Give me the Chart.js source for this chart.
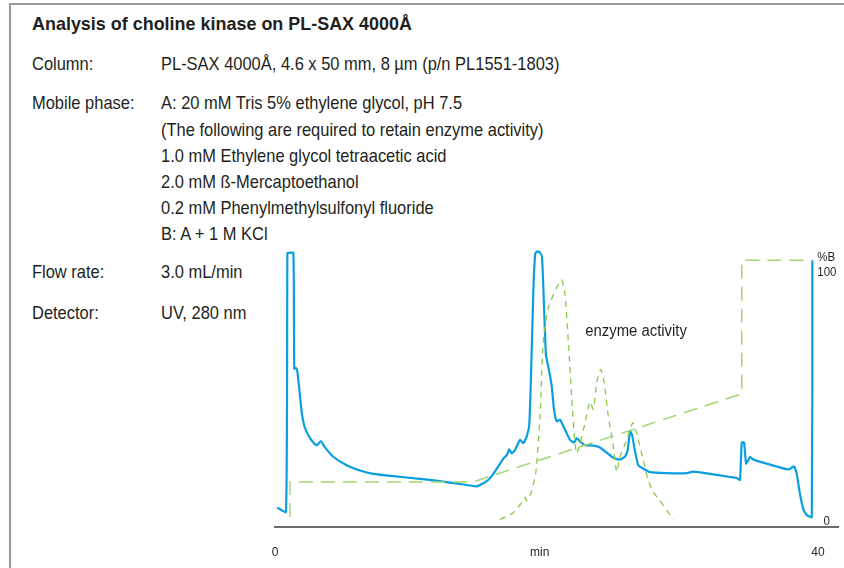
<!DOCTYPE html>
<html>
<head>
<meta charset="utf-8">
<script src="https://cdn.jsdelivr.net/npm/chart.js@4.4.1/dist/chart.umd.min.js"></script>
<style>
  html, body { margin:0; padding:0; background:#fff; }
  body { width:844px; height:568px; position:relative; overflow:hidden;
         font-family:"Liberation Sans","Roboto",sans-serif; color:#231f20; }
  #frame { position:absolute; left:9px; top:3px; width:840px; height:570px;
           border-top:2px solid #9a9a9a; border-left:2px solid #9a9a9a; }
  .t { position:absolute; white-space:nowrap; font-size:18.5px; line-height:22px;
       transform:scaleX(0.89); transform-origin:0 50%; }
  .title { font-weight:bold; transform:scaleX(0.97); }
  #chart { position:absolute; left:0; top:0; }
</style>
</head>
<body>
<div id="frame"></div>
<div class="t title" style="left:32px; top:13px;">Analysis of choline kinase on PL-SAX 4000Å</div>
<div class="t" style="left:32px; top:53px;">Column:</div>
<div class="t" style="left:161px; top:53px;">PL-SAX 4000Å, 4.6 x 50 mm, 8 µm (p/n PL1551-1803)</div>
<div class="t" style="left:32px; top:92px;">Mobile phase:</div>
<div class="t" style="left:161px; top:92px;">A: 20 mM Tris 5% ethylene glycol, pH 7.5</div>
<div class="t" style="left:161px; top:119px;">(The following are required to retain enzyme activity)</div>
<div class="t" style="left:161px; top:145px;">1.0 mM Ethylene glycol tetraacetic acid</div>
<div class="t" style="left:161px; top:171px;">2.0 mM ß-Mercaptoethanol</div>
<div class="t" style="left:161px; top:197px;">0.2 mM Phenylmethylsulfonyl fluoride</div>
<div class="t" style="left:161px; top:223px;">B: A + 1 M KCl</div>
<div class="t" style="left:32px; top:261px;">Flow rate:</div>
<div class="t" style="left:161px; top:261px;">3.0 mL/min</div>
<div class="t" style="left:32px; top:302px;">Detector:</div>
<div class="t" style="left:161px; top:302px;">UV, 280 nm</div>
<canvas id="chart" width="844" height="568"></canvas>
<script>
// ---- data (time in min, signal in %B-equivalent units) ----
const uvTime = [0.17,0.81,0.91,0.98,1.35,1.42,1.55,1.64,1.79,1.97,2.21,2.58,2.95,3.12,3.37,3.68,4.29,5.28,6.26,7.24,8.71,10.68,12.15,13.63,14.86,15.6,16.08,16.82,17.07,17.26,17.44,17.68,18.05,18.29,18.54,18.73,18.86,19.03,19.17,19.32,19.52,19.67,19.82,19.96,20.16,20.38,20.55,20.75,20.99,21.24,21.49,21.73,22.03,22.23,22.47,22.84,23.45,23.94,24.43,24.92,25.36,25.78,25.98,26.15,26.3,26.52,26.76,27.13,27.62,28.85,30.33,30.81,31.31,33.52,34.01,34.25,34.38,34.55,34.7,34.87,34.99,35.24,37.81,38.23,38.43,38.67,38.92,39.17,39.54,39.58];
const uvSignal = [4.6,2.9,102.6,102.9,102.9,58.2,58.4,57.3,50.3,41.2,35.3,31.4,29,28.7,30.3,27.8,24.2,20.9,18.9,17.6,16.7,15.7,14.8,13.7,12.8,14.8,17.6,23.5,24.8,27.1,25.5,26.8,30.7,29.4,32,36.6,55.7,88.2,102.6,103.5,103.1,101.3,81.7,63.4,58.2,51.6,42.5,37.9,38.5,36,33.3,30.7,29.7,31.4,30.1,28.7,28.5,27.8,25.8,23.8,23.1,24.2,26.8,34,32.7,26.2,20.9,19.6,18.3,17.9,17.9,18.5,18.2,16.4,16,15.3,29.7,29.7,21.6,22.9,24.2,23.1,19.3,20.5,17.6,9.8,3.9,1.7,0.9,100];

const gradientTime = [1.1,1.1,14.6,34.38,34.38,39.4];
const gradientPercentB = [1,14.5,14.5,48.5,100,100];

const activityTime = [16.57,17.55,18.17,18.42,18.54,18.91,19.23,19.52,19.76,20.13,20.75,21.12,21.36,21.61,21.86,22.1,22.23,22.47,22.84,23.2,23.45,23.7,23.99,24.24,24.55,24.92,25.17,25.41,25.91,26.35,26.64,27.13,27.5,27.87,28.36,29.34];
const activityValue = [0,2.6,6.5,8.5,7.2,11.1,18.9,40,68.6,81.7,89.5,92.4,86.9,68.6,46.4,29.4,25.5,29.4,37.3,45.4,42.5,52.9,57.9,52.9,39.9,28.1,18.3,24.2,30.7,37.3,33.3,22.9,15,10.5,7.2,0];

const xTickValues = [0, 19.5, 40];
const xTickLabels = ['0', 'min', '40'];
const percentBTicks = [100, 0];
const percentBTitle = '%B';
const activityLabel = 'enzyme activity';

const zip = (xs, ys) => xs.map((x, i) => ({x, y: ys[i]}));

const FONT = '"Liberation Sans","Roboto",sans-serif';

const labelsPlugin = {
  id: 'extraLabels',
  afterDraw(chart) {
    const {ctx, scales:{x, y}} = chart;
    ctx.save();
    ctx.fillStyle = '#231f20';
    ctx.textBaseline = 'middle';
    ctx.textAlign = 'left';
    const txt = (s, px, py, size, sx) => {
      ctx.save();
      ctx.font = size + 'px ' + FONT;
      ctx.translate(px, py);
      ctx.scale(sx, 1);
      ctx.fillText(s, 0, 0);
      ctx.restore();
    };
    txt(percentBTitle, x.getPixelForValue(39.95), y.getPixelForValue(100) - 3, 13, 0.88);
    txt(String(percentBTicks[0]), x.getPixelForValue(39.95), y.getPixelForValue(100) + 12, 13, 0.88);
    txt(String(percentBTicks[1]), x.getPixelForValue(40.4), y.getPixelForValue(0) + 2, 13, 0.88);
    txt(activityLabel, x.getPixelForValue(22.85), y.getPixelForValue(72.5), 16, 0.93);
    ctx.restore();
  }
};

new Chart(document.getElementById('chart'), {
  type: 'line',
  data: {
    datasets: [
      { data: zip(gradientTime, gradientPercentB), borderColor: '#a3d572', borderWidth: 1.5,
        borderDash: [14, 8], pointRadius: 0, tension: 0, fill: false },
      { data: zip(activityTime, activityValue), borderColor: '#8cc84b', borderWidth: 1.3,
        borderDash: [6, 5], pointRadius: 0, tension: 0.2, fill: false },
      { data: zip(uvTime, uvSignal), borderColor: '#0a9ee0', borderWidth: 2.2,
        pointRadius: 0, tension: 0.15, fill: false }
    ]
  },
  options: {
    responsive: false,
    devicePixelRatio: 1,
    animation: false,
    events: [],
    layout: { padding: { left: 275, right: 6, top: 250, bottom: -11 } },
    plugins: { legend: { display: false }, tooltip: { enabled: false } },
    scales: {
      x: {
        type: 'linear', min: 0, max: 41.47,
        grid: { display: false, drawTicks: false },
        border: { display: true, color: '#6b6b6b', width: 2 },
        afterBuildTicks: (s) => { s.ticks = xTickValues.map(v => ({value: v})); },
        ticks: {
          padding: 19, color: '#231f20', maxRotation: 0, autoSkip: false,
          font: { family: FONT, size: 12 },
          callback: (v) => xTickLabels[xTickValues.indexOf(v)]
        }
      },
      y: { display: false, min: -2.75, max: 104 }
    }
  },
  plugins: [labelsPlugin]
});
</script>
</body>
</html>
